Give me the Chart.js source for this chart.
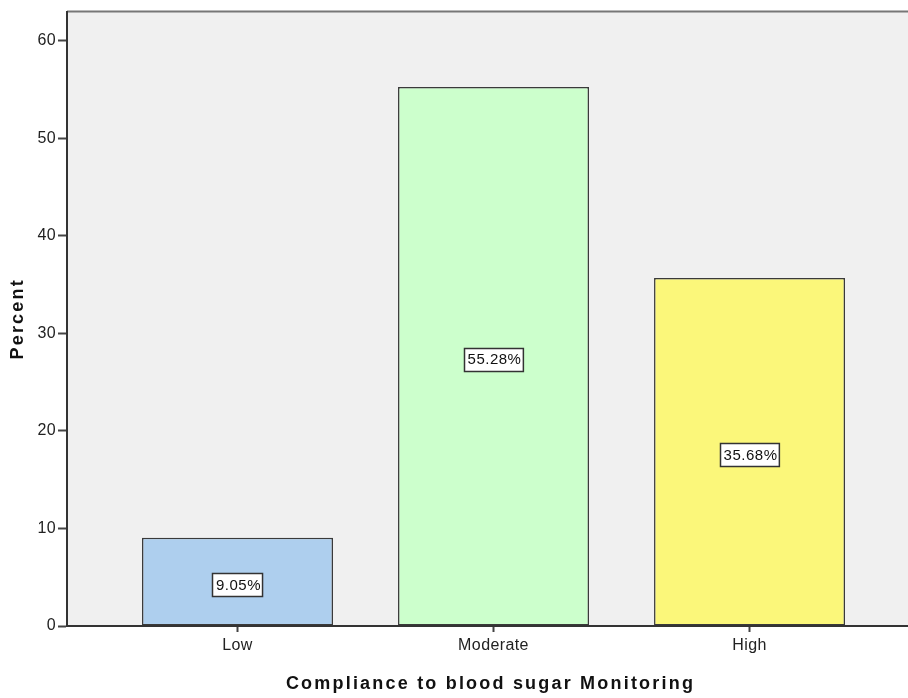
<!DOCTYPE html>
<html>
<head>
<meta charset="utf-8">
<script src="https://cdn.jsdelivr.net/npm/chart.js@4"></script>
<style>
  html, body { margin: 0; padding: 0; background: #fff; }
  #wrap { width: 908px; height: 698px; }
</style>
</head>
<body>
<div id="wrap"><canvas id="myChart" width="908" height="698"></canvas></div>
<script>
const categories = ["Low", "Moderate", "High"];
const percents = [9.05, 55.28, 35.68];
const barColors = ["#aecfee", "#ccffcc", "#fbf77a"];
const yTicks = [0, 10, 20, 30, 40, 50, 60];
const xTitle = "Compliance to blood sugar Monitoring";
const yTitle = "Percent";

const ctx = document.getElementById("myChart");
const font = "'Liberation Sans', Arial, sans-serif";

// plot background + top border
const backdrop = {
  id: "backdrop",
  beforeDraw(chart) {
    const c = chart.ctx;
    const a = chart.chartArea;
    // slightly spaced text like the original, kept for tick labels too
    c.letterSpacing = "0.4px";
    c.save();
    c.fillStyle = "#fff";
    c.fillRect(0, 0, chart.width, chart.height);
    c.fillStyle = "#f0f0f0";
    c.fillRect(a.left, a.top, a.right - a.left, a.bottom - a.top);
    c.strokeStyle = "#777";
    c.lineWidth = 2;
    c.beginPath();
    c.moveTo(a.left, a.top);
    c.lineTo(a.right, a.top);
    c.stroke();
    c.restore();
  },
};

// value boxes in the middle of each bar
const boxLabels = {
  id: "boxLabels",
  afterDatasetsDraw(chart) {
    const c = chart.ctx;
    const meta = chart.getDatasetMeta(0);
    c.save();
    c.font = "15px " + font;
    c.letterSpacing = "0.5px";
    c.textAlign = "center";
    c.textBaseline = "middle";
    meta.data.forEach((bar, i) => {
      const txt = percents[i].toFixed(2) + "%";
      const w = c.measureText(txt).width + 5;
      const h = 23;
      const cy = (bar.y + bar.base) / 2 + 3;
      const x0 = Math.round(bar.x - w / 2) + 0.5;
      const y0 = Math.round(cy - h / 2) + 0.5;
      c.fillStyle = "#fff";
      c.fillRect(x0, y0, w, h);
      c.strokeStyle = "#333";
      c.lineWidth = 1.5;
      c.strokeRect(x0, y0, w, h);
      c.fillStyle = "#111";
      c.fillText(txt, bar.x + 1, cy + 1);
    });
    c.restore();
  },
};

// axis titles (spaced bold text)
const axisTitles = {
  id: "axisTitles",
  afterDraw(chart) {
    const c = chart.ctx;
    const a = chart.chartArea;
    c.save();
    c.fillStyle = "#111";
    c.font = "bold 18px " + font;
    c.letterSpacing = "2.2px";
    c.textAlign = "center";
    c.textBaseline = "middle";
    c.fillText(xTitle, (a.left + a.right) / 2 + 3, 684);
    c.translate(18, (a.top + a.bottom) / 2);
    c.rotate(-Math.PI / 2);
    c.fillText(yTitle, 0, 0);
    c.restore();
  },
};

new Chart(ctx, {
  type: "bar",
  data: {
    datasets: [
      {
        data: percents.map((v, i) => ({ x: i, y: v })),
        backgroundColor: barColors,
        borderColor: "#3a3a3a",
        borderWidth: 1.5,
        borderSkipped: false,
        categoryPercentage: 1,
        barPercentage: 0.746,
      },
    ],
  },
  options: {
    responsive: false,
    animation: false,
    layout: { padding: { top: 5, right: 0, left: 0, bottom: 0 } },
    plugins: {
      legend: { display: false },
      tooltip: { enabled: false },
    },
    scales: {
      x: {
        type: "linear",
        offset: false,
        min: -0.666,
        max: 2.619,
        afterBuildTicks: (scale) => {
          scale.ticks = categories.map((c, i) => ({ value: i }));
        },
        afterFit: (scale) => {
          scale.height = 72;
        },
        ticks: {
          callback: (v) => categories[v],
          font: { family: font, size: 16 },
          color: "#222",
          padding: 4,
          maxRotation: 0,
        },
        grid: {
          offset: false,
          drawOnChartArea: false,
          tickLength: 6,
          tickColor: "#444",
          tickWidth: 2,
        },
        border: { color: "#333", width: 2 },
      },
      y: {
        min: 0,
        max: 63,
        afterBuildTicks: (scale) => {
          scale.ticks = yTicks.map((v) => ({ value: v }));
        },
        afterFit: (scale) => {
          scale.width = 67;
        },
        ticks: {
          font: { family: font, size: 16 },
          color: "#222",
          padding: 2,
        },
        grid: {
          drawOnChartArea: false,
          tickLength: 9,
          tickColor: "#444",
          tickWidth: 2,
        },
        border: { color: "#333", width: 2 },
      },
    },
  },
  plugins: [backdrop, boxLabels, axisTitles],
});
</script>
</body>
</html>
